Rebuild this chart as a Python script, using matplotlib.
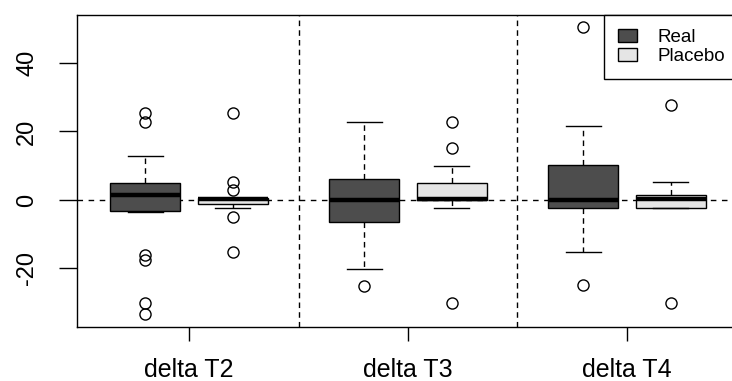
import matplotlib
matplotlib.use("Agg")
import matplotlib.pyplot as plt
from matplotlib.patches import Patch

plt.rcParams['font.family'] = ['Liberation Sans', 'DejaVu Sans']

# Values
groups = ['delta T2', 'delta T3', 'delta T4']

real_q1 = [-3.1, -6.3, -2.4]
real_med = [1.4, 0.0, 0.0]
real_q3 = [5.0, 6.1, 10.2]
real_lo = [-3.6, -20.1, -15.1]
real_hi = [12.8, 22.7, 21.6]
real_fliers = [[25.4, 22.8, -16.0, -17.5, -30.0, -33.3],
               [-25.1],
               [50.4, -24.8]]

placebo_q1 = [-1.2, 0.0, -2.4]
placebo_med = [0.3, 0.2, 0.2]
placebo_q3 = [0.5, 5.0, 1.3]
placebo_lo = [-2.4, -2.4, -2.4]
placebo_hi = [0.5, 10.0, 5.1]
placebo_fliers = [[25.3, 5.3, 2.9, -4.9, -15.1],
                  [22.7, 15.1, -30.0],
                  [27.7, -30.2]]

real_color = '#4d4d4d'
placebo_color = '#e5e5e5'


def make_stats(q1, med, q3, lo, hi, fliers):
    return [dict(q1=a, med=b, q3=c, whislo=d, whishi=e, fliers=f)
            for a, b, c, d, e, f in zip(q1, med, q3, lo, hi, fliers)]


fig = plt.figure(figsize=(7.32, 3.81), dpi=100)
# the frame runs past the right edge of the picture, as in the reference
ax = fig.add_axes([77/732, 1 - 327/381, 662/732, 312/381])

real_pos = [1, 3.5, 6]
placebo_pos = [2, 4.5, 7]

common = dict(widths=0.8, patch_artist=True, manage_ticks=False,
              medianprops=dict(color='black', linewidth=3.2, solid_capstyle='butt'),
              whiskerprops=dict(color='black', linewidth=1, linestyle=(0, (4, 3))),
              capprops=dict(color='black', linewidth=1),
              capwidths=0.4,
              flierprops=dict(marker='o', markerfacecolor='none',
                              markeredgecolor='black', markersize=8,
                              markeredgewidth=1))

b1 = ax.bxp(make_stats(real_q1, real_med, real_q3, real_lo, real_hi, real_fliers),
            positions=real_pos,
            boxprops=dict(facecolor=real_color, edgecolor='black', linewidth=1),
            **common)
b2 = ax.bxp(make_stats(placebo_q1, placebo_med, placebo_q3, placebo_lo,
                       placebo_hi, placebo_fliers),
            positions=placebo_pos,
            boxprops=dict(facecolor=placebo_color, edgecolor='black', linewidth=1),
            **common)

ax.set_xlim(0.22, 7.78)
ax.set_ylim(-37.1, 54.0)

# reference lines
ax.axhline(0, color='black', linewidth=1, linestyle=(0, (4, 4)), zorder=0.5)
for xs in [2.75, 5.25]:
    ax.axvline(xs, color='black', linewidth=1, linestyle=(0, (4, 3)), zorder=0.5)

ax.set_xticks([1.5, 4, 6.5])
ax.set_xticklabels(groups)
ax.set_yticks([-20, 0, 20, 40])
ax.set_yticklabels(['-20', '0', '20', '40'], rotation=90, va='center')
ax.tick_params(axis='x', length=10, width=1, pad=12, labelsize=18)
ax.tick_params(axis='y', length=13, width=1, pad=15, labelsize=17)
for sp in ax.spines.values():
    sp.set_linewidth(1)

handles = [Patch(facecolor=real_color, edgecolor='black', linewidth=1),
           Patch(facecolor=placebo_color, edgecolor='black', linewidth=1)]
leg = ax.legend(handles, ['Real', 'Placebo'], loc='upper right',
                borderaxespad=0, fontsize=13.5, fancybox=False,
                framealpha=1, edgecolor='black', handlelength=1.0,
                handleheight=0.65, handletextpad=1.1, labelspacing=0.1,
                borderpad=0.75)
leg.get_frame().set_linewidth(1)

fig.savefig('out.png', dpi=100)
